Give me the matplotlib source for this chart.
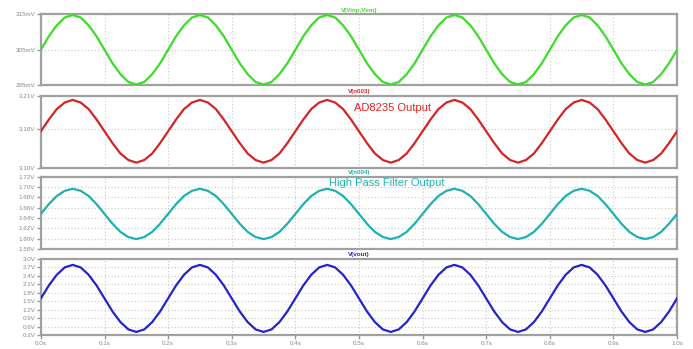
import numpy as np
import matplotlib
matplotlib.use("Agg")
import matplotlib.pyplot as plt
from matplotlib.ticker import FixedLocator

plt.rcParams['font.family'] = ['Liberation Sans', 'DejaVu Sans']

# time axis (s), samples every 12.5 ms
t = np.arange(81) * 0.0125

# V(Vinp,Vinn) in mV
v_in = [305.0, 308.8, 311.9, 314.1, 314.8, 314.1, 311.9, 308.8, 305.0, 301.2, 298.1, 295.9, 295.2, 295.9, 298.1, 301.2,
        305.0, 308.8, 311.9, 314.1, 314.8, 314.1, 311.9, 308.8, 305.0, 301.2, 298.1, 295.9, 295.2, 295.9, 298.1, 301.2,
        305.0, 308.8, 311.9, 314.1, 314.8, 314.1, 311.9, 308.8, 305.0, 301.2, 298.1, 295.9, 295.2, 295.9, 298.1, 301.2,
        305.0, 308.8, 311.9, 314.1, 314.8, 314.1, 311.9, 308.8, 305.0, 301.2, 298.1, 295.9, 295.2, 295.9, 298.1, 301.2,
        305.0, 308.8, 311.9, 314.1, 314.8, 314.1, 311.9, 308.8, 305.0, 301.2, 298.1, 295.9, 295.2, 295.9, 298.1, 301.2,
        305.0]

# V(n003) - AD8235 output (V)
v_n003 = [3.156, 3.174, 3.190, 3.200, 3.204, 3.200, 3.190, 3.174, 3.156, 3.138, 3.122, 3.112, 3.108, 3.112, 3.122, 3.138,
          3.156, 3.174, 3.190, 3.200, 3.204, 3.200, 3.190, 3.174, 3.156, 3.138, 3.122, 3.112, 3.108, 3.112, 3.122, 3.138,
          3.156, 3.174, 3.190, 3.200, 3.204, 3.200, 3.190, 3.174, 3.156, 3.138, 3.122, 3.112, 3.108, 3.112, 3.122, 3.138,
          3.156, 3.174, 3.190, 3.200, 3.204, 3.200, 3.190, 3.174, 3.156, 3.138, 3.122, 3.112, 3.108, 3.112, 3.122, 3.138,
          3.156, 3.174, 3.190, 3.200, 3.204, 3.200, 3.190, 3.174, 3.156, 3.138, 3.122, 3.112, 3.108, 3.112, 3.122, 3.138,
          3.156]

# V(n004) - high pass filter output (V)
v_n004 = [1.648, 1.667, 1.683, 1.693, 1.697, 1.693, 1.683, 1.667, 1.648, 1.629, 1.613, 1.603, 1.599, 1.603, 1.613, 1.629,
          1.648, 1.667, 1.683, 1.693, 1.697, 1.693, 1.683, 1.667, 1.648, 1.629, 1.613, 1.603, 1.599, 1.603, 1.613, 1.629,
          1.648, 1.667, 1.683, 1.693, 1.697, 1.693, 1.683, 1.667, 1.648, 1.629, 1.613, 1.603, 1.599, 1.603, 1.613, 1.629,
          1.648, 1.667, 1.683, 1.693, 1.697, 1.693, 1.683, 1.667, 1.648, 1.629, 1.613, 1.603, 1.599, 1.603, 1.613, 1.629,
          1.648, 1.667, 1.683, 1.693, 1.697, 1.693, 1.683, 1.667, 1.648, 1.629, 1.613, 1.603, 1.599, 1.603, 1.613, 1.629,
          1.648]

# V(vout) (V)
v_out = [1.60, 2.06, 2.44, 2.70, 2.79, 2.70, 2.44, 2.06, 1.60, 1.14, 0.76, 0.50, 0.41, 0.50, 0.76, 1.14,
         1.60, 2.06, 2.44, 2.70, 2.79, 2.70, 2.44, 2.06, 1.60, 1.14, 0.76, 0.50, 0.41, 0.50, 0.76, 1.14,
         1.60, 2.06, 2.44, 2.70, 2.79, 2.70, 2.44, 2.06, 1.60, 1.14, 0.76, 0.50, 0.41, 0.50, 0.76, 1.14,
         1.60, 2.06, 2.44, 2.70, 2.79, 2.70, 2.44, 2.06, 1.60, 1.14, 0.76, 0.50, 0.41, 0.50, 0.76, 1.14,
         1.60, 2.06, 2.44, 2.70, 2.79, 2.70, 2.44, 2.06, 1.60, 1.14, 0.76, 0.50, 0.41, 0.50, 0.76, 1.14,
         1.60]

x_ticks = [0.0, 0.1, 0.2, 0.3, 0.4, 0.5, 0.6, 0.7, 0.8, 0.9, 1.0]
x_labels = ['0.0s', '0.1s', '0.2s', '0.3s', '0.4s', '0.5s', '0.6s', '0.7s', '0.8s', '0.9s', '1.0s']

panels = [
    dict(y=v_in, name='V(Vinp,Vinn)', color='#3ddc2a', lim=(295, 315),
         ticks=[295, 305, 315], labels=['295mV', '305mV', '315mV'],
         rect=[0.059, 0.756, 0.918, 0.203]),
    dict(y=v_n003, name='V(n003)', color='#d42424', lim=(3.10, 3.21),
         ticks=[3.10, 3.16, 3.21], labels=['3.10V', '3.16V', '3.21V'],
         rect=[0.059, 0.519, 0.918, 0.206]),
    dict(y=v_n004, name='V(n004)', color='#1fb0b0', lim=(1.58, 1.72),
         ticks=[1.58, 1.60, 1.62, 1.64, 1.66, 1.68, 1.70, 1.72],
         labels=['1.58V', '1.60V', '1.62V', '1.64V', '1.66V', '1.68V', '1.70V', '1.72V'],
         rect=[0.059, 0.287, 0.918, 0.206]),
    dict(y=v_out, name='V(vout)', color='#2424c8', lim=(0.3, 3.0),
         ticks=[0.3, 0.6, 0.9, 1.2, 1.5, 1.8, 2.1, 2.4, 2.7, 3.0],
         labels=['0.3V', '0.6V', '0.9V', '1.2V', '1.5V', '1.8V', '2.1V', '2.4V', '2.7V', '3.0V'],
         rect=[0.059, 0.040, 0.918, 0.218]),
]

fig = plt.figure(figsize=(6.93, 3.49), dpi=100)
fig.patch.set_facecolor('white')

axes = []
for i, p in enumerate(panels):
    ax = fig.add_axes(p['rect'])
    ax.plot(t, p['y'], color=p['color'], lw=1.6, zorder=3)
    ax.set_xlim(0, 1.0)
    ax.set_ylim(*p['lim'])
    ax.yaxis.set_major_locator(FixedLocator(p['ticks']))
    ax.set_yticklabels(p['labels'])
    ax.set_xticks(x_ticks)
    if i == len(panels) - 1:
        ax.set_xticklabels(x_labels)
        ax.tick_params(axis='x', length=3, width=1, color='#999999', labelsize=4.5,
                       labelcolor='#888888', pad=1.5)
    else:
        ax.set_xticklabels([])
        ax.tick_params(axis='x', length=0)
    ax.tick_params(axis='y', length=3, width=1, color='#999999', labelsize=4.5,
                   labelcolor='#888888', pad=1)
    ax.grid(True, color='#c8c8c8', linestyle=(0, (1, 2)), linewidth=0.8, zorder=0)
    for s in ax.spines.values():
        s.set_color('#a0a0a0')
        s.set_linewidth(1.6)
    ax.set_title(p['name'], color=p['color'], fontsize=4.5, pad=2, fontweight='bold')
    axes.append(ax)

axes[1].text(0.552, 0.83, 'AD8235 Output', transform=axes[1].transAxes, color='#ee2020',
             fontsize=8, ha='center', va='center')
axes[2].text(0.544, 0.92, 'High Pass Filter Output', transform=axes[2].transAxes,
             color='#22b4b4', fontsize=8, ha='center', va='center')

fig.savefig('out.png', dpi=100, facecolor='white')
